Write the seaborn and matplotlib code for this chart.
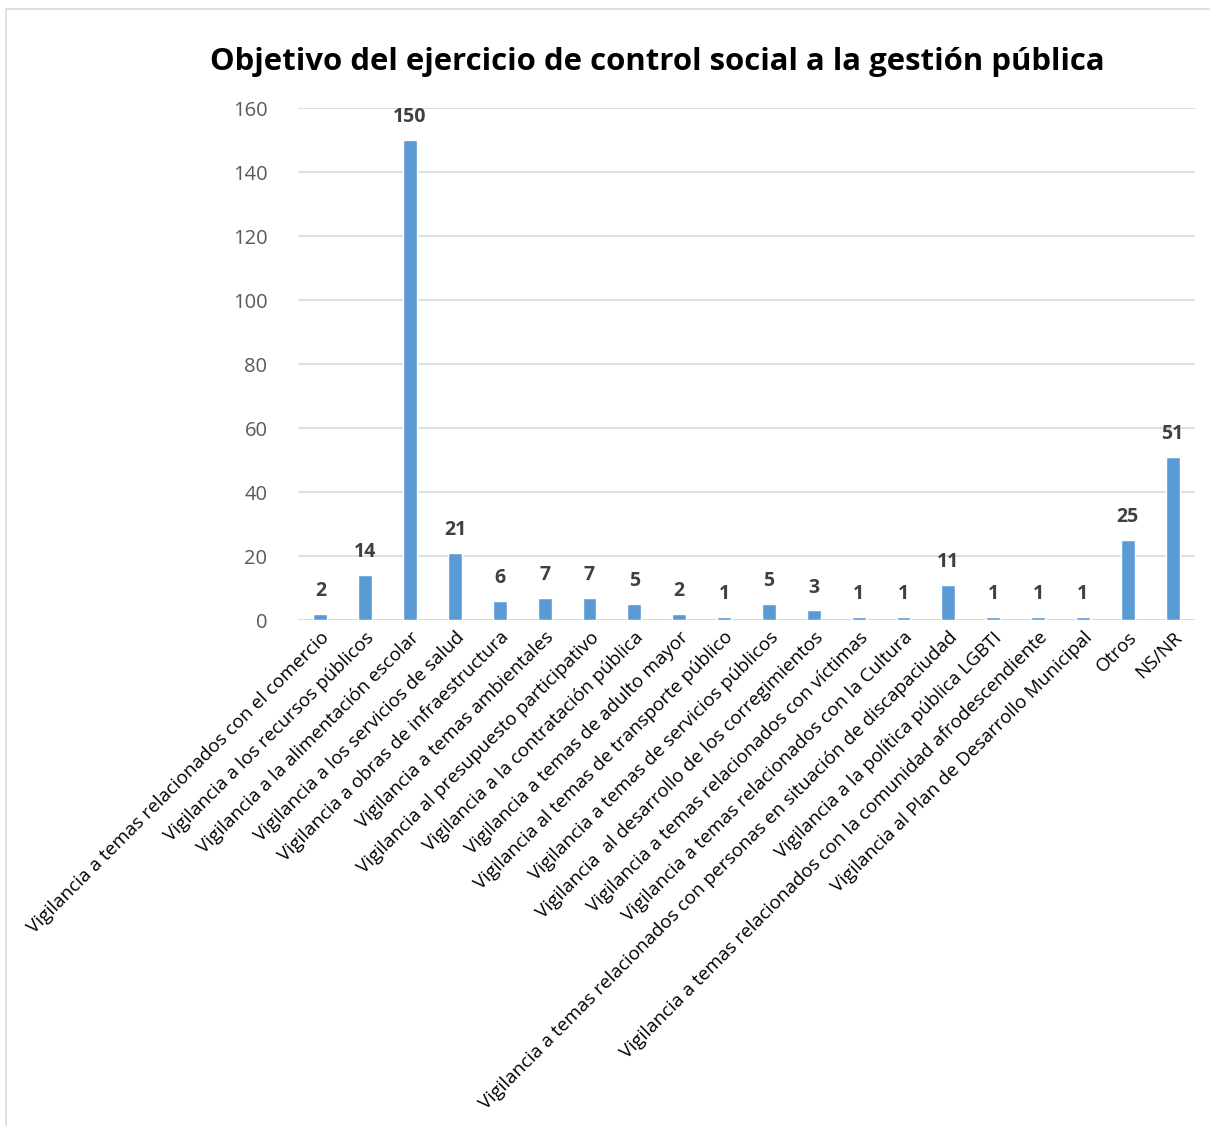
import seaborn as sns
import matplotlib.pyplot as plt
from matplotlib.patches import Rectangle

# categorías y valores del gráfico
categorias = [
    "Vigilancia a temas relacionados con el comercio",
    "Vigilancia a los recursos públicos",
    "Vigilancia a la alimentación escolar",
    "Vigilancia a los servicios de salud",
    "Vigilancia a obras de infraestructura",
    "Vigilancia a temas ambientales",
    "Vigilancia al presupuesto participativo",
    "Vigilancia a la contratación pública",
    "Vigilancia a temas de adulto mayor",
    "Vigilancia al temas de transporte público",
    "Vigilancia a temas de servicios públicos",
    "Vigilancia  al desarrollo de los corregimientos",
    "Vigilancia a temas relacionados con víctimas",
    "Vigilancia a temas relacionados con la Cultura",
    "Vigilancia a temas relacionados con personas en situación de discapaciudad",
    "Vigilancia a la política pública LGBTI",
    "Vigilancia a temas relacionados con la comunidad afrodescendiente",
    "Vigilancia al Plan de Desarrollo Municipal",
    "Otros",
    "NS/NR",
]
valores = [2, 14, 150, 21, 6, 7, 7, 5, 2, 1, 5, 3, 1, 1, 11, 1, 1, 1, 25, 51]
y_ticks = [0, 20, 40, 60, 80, 100, 120, 140, 160]

sns.set_style("white")
plt.rcParams['font.family'] = ['Open Sans', 'DejaVu Sans']

fig = plt.figure(figsize=(12.1, 11.26), dpi=100)
ax = fig.add_axes([298 / 1210, 1 - 620 / 1126, 897 / 1210, 512 / 1126])

sns.barplot(x=categorias, y=valores, color="#5B9BD5", width=0.31,
            saturation=1, ax=ax, zorder=3)

ax.set_ylim(0, 160)
ax.set_xlim(-0.5, len(categorias) - 0.5)
ax.set_yticks(y_ticks)
ax.yaxis.grid(True, color="#D9D9D9", linewidth=1.2, zorder=0)
ax.tick_params(axis='y', length=0, labelsize=14.5, labelcolor="#595959", pad=22)
ax.tick_params(axis='x', length=0, pad=6)
for s in ax.spines.values():
    s.set_visible(False)
ax.axhline(0, color="#D9D9D9", linewidth=1.2, zorder=2)

ax.set_xticks(range(len(categorias)))
ax.set_xticklabels(categorias, rotation=45, ha='right', va='top',
                   rotation_mode='anchor', fontsize=13.6, color="black")

# etiquetas de valor
for i, v in enumerate(valores):
    ax.text(i, v + 4, str(v), ha='center', va='bottom', fontsize=14,
            fontweight='bold', color="#404040")

fig.text(657 / 1210, 1 - 62 / 1126, "Objetivo del ejercicio de control social a la gestión pública",
         ha='center', va='center', fontsize=22.4, fontweight='bold', color="black")

# marco del gráfico
fig.patches.append(Rectangle((6 / 1210, -0.05), 1.2, 1 - 9 / 1126 + 0.05,
                             transform=fig.transFigure, fill=False,
                             edgecolor="#D9D9D9", linewidth=1.2))

fig.savefig("out.png", dpi=100)
